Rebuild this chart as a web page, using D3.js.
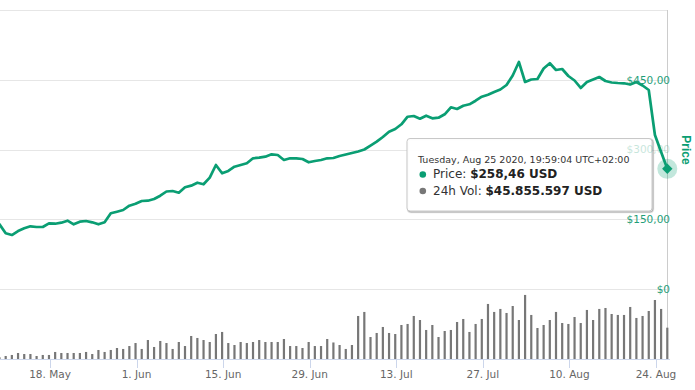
<!DOCTYPE html>
<html><head><meta charset="utf-8">
<script src="https://cdn.jsdelivr.net/npm/d3@7"></script>
<style>
body{margin:0;background:#fff}
svg{display:block;font-family:"DejaVu Sans",Verdana,sans-serif}
</style>
</head><body>
<svg id="c" width="695" height="390"></svg>
<script>
// ---- data ----
const startDate = "2020-05-09T19:59:04Z"; // first daily point, one point per day
const prices = [
139.1,119.8,116.1,124.7,130.5,134.8,133.3,133.3,141.3,140.4,
142.6,146.9,139.1,144.7,146.2,143.4,139.1,143.4,162.8,166.2,
169.9,179.1,183.4,189.2,189.9,193.5,200.6,209.7,210.8,207.1,
218.7,222.2,228.6,225.2,239.4,266.7,248.8,253.8,263.0,266.7,
270.3,281.1,282.4,284.5,289.7,288.2,277.4,281.1,281.1,279.6,
272.5,275.3,277.4,281.1,281.7,286.0,289.2,292.5,295.7,300.0,
308.2,316.8,326.9,338.3,344.1,354.2,370.5,372.0,366.2,372.7,
367.1,368.4,375.7,390.8,387.1,394.2,397.2,404.9,413.5,417.8,
423.7,429.0,438.7,459.1,488.2,445.2,450.5,451.6,474.2,485.4,
471.0,473.1,458.1,448.4,432.3,445.2,450.5,455.9,447.3,444.1,
443.0,442.4,439.8,445.2,437.6,428.0,331.2,294.6,258.46
];
// 24h volume, millions USD
const volumes = [
2.5,4.4,5.9,8.8,7.3,7.3,4.4,5.9,5.9,10.3,
8.8,8.8,8.8,8.8,10.3,7.3,13.2,10.3,13.2,16.1,
14.7,19.0,23.4,14.7,27.8,17.6,26.4,23.4,14.7,24.9,
19.0,33.7,30.8,27.8,24.9,36.6,39.6,23.4,20.5,24.9,
23.4,24.9,27.8,24.9,24.9,24.9,29.3,19.0,19.0,16.1,
24.9,19.0,19.0,29.3,24.2,20.5,14.7,20.5,63.0,68.9,
32.2,38.1,46.9,38.1,36.6,49.8,51.3,63.0,57.1,42.5,
49.8,32.2,41.0,42.5,54.2,58.6,39.6,51.3,58.6,80.6,
68.9,73.3,67.4,77.6,57.1,93.8,64.5,45.4,49.8,57.1,
68.9,52.7,51.3,61.5,52.7,71.8,57.1,73.3,74.7,65.9,
64.5,64.5,76.2,60.1,63.0,70.3,86.4,73.3,45.86
];
const xTickDates = ["2020-05-18","2020-06-01","2020-06-15","2020-06-29","2020-07-13","2020-07-27","2020-08-10","2020-08-24"];
const priceTicks = [0,150,300,450,600];
const priceTickLabels = ["$0","$150,00","$300,00","$450,00",""];
const tooltipDate = "Tuesday, Aug 25 2020, 19:59:04 UTC+02:00";
const tooltipPriceLabel = "Price: ", tooltipPriceValue = "$258,46 USD";
const tooltipVolLabel = "24h Vol: ", tooltipVolValue = "$45.855.597 USD";
const axisTitle = "Price";

// ---- setup ----
const green = "#0a9e73", gray = "#777777";
const t0 = new Date(startDate);
const dates = prices.map((_, i) => d3.utcDay.offset(t0, i));
const svg = d3.select("#c");

const plotLeft = 0, plotRight = 668, priceTop = 10, priceBottom = 289, volBottom = 359;
const x = d3.scaleUtc().domain([dates[0], dates[dates.length-1]]).range([-0.5, 667.3]);
const yP = d3.scaleLinear().domain([0, 600]).range([priceBottom, priceTop]);
const yV = d3.scaleLinear().domain([0, 102.5]).range([volBottom, priceBottom]);

svg.append("defs").append("clipPath").attr("id","clip")
  .append("rect").attr("x",plotLeft).attr("y",0).attr("width",plotRight-plotLeft+2).attr("height",volBottom);

// grid
svg.append("g").selectAll("line").data(priceTicks).join("line")
  .attr("x1",plotLeft).attr("x2",plotRight)
  .attr("y1",d=>Math.round(yP(d))+0.5).attr("y2",d=>Math.round(yP(d))+0.5)
  .attr("stroke","#e6e6e6").attr("stroke-width",1);

// crosshair
const li = prices.length-1;
svg.append("line").attr("x1",Math.round(x(dates[li]))+0.5).attr("x2",Math.round(x(dates[li]))+0.5)
  .attr("y1",priceTop).attr("y2",volBottom).attr("stroke","#cccccc");

// volume bars
svg.append("g").attr("clip-path","url(#clip)").selectAll("rect").data(volumes).join("rect")
  .attr("x",(d,i)=>x(dates[i])-1.1).attr("width",2.2)
  .attr("y",d=>yV(d)).attr("height",d=>volBottom-yV(d))
  .attr("fill",gray);

// x axis
const xAxisG = svg.append("g");
xAxisG.append("line").attr("x1",plotLeft).attr("x2",670).attr("y1",volBottom+0.5).attr("y2",volBottom+0.5).attr("stroke","#ccd6eb");
const tickDates = xTickDates.map(s=>new Date(s+"T00:00:00Z"));
const fmt = d3.utcFormat("%-d. %b");
xAxisG.selectAll("line.tick").data(tickDates).join("line").attr("class","tick")
  .attr("x1",d=>Math.round(x(d))+0.5).attr("x2",d=>Math.round(x(d))+0.5)
  .attr("y1",volBottom).attr("y2",volBottom+9).attr("stroke","#ccd6eb");
xAxisG.selectAll("text").data(tickDates).join("text")
  .attr("x",d=>x(d)).attr("y",377.5).attr("text-anchor","middle")
  .attr("font-size","10.5px").attr("fill","#666666").text(d=>fmt(d));

// price line
const line = d3.line().x((d,i)=>x(dates[i])).y(d=>yP(d));
svg.append("path").datum(prices).attr("clip-path","url(#clip)")
  .attr("d",line).attr("fill","none").attr("stroke",green)
  .attr("stroke-width",2.7).attr("stroke-linejoin","round").attr("stroke-linecap","round");

// y labels (except the one behind the tooltip)
svg.append("g").selectAll("text").data(priceTicks.filter(d=>d!==300)).join("text")
  .attr("x",670).attr("y",d=>yP(d)+3.8).attr("text-anchor","end")
  .attr("font-size","10.5px").attr("fill","#1f9e78")
  .text(d=>priceTickLabels[priceTicks.indexOf(d)]);

// axis title
svg.append("text").attr("transform",`translate(681.5,${(yP(600)+yP(0))/2+0.5}) rotate(90)`)
  .attr("text-anchor","middle").attr("font-family","'Liberation Sans',Arial,sans-serif")
  .attr("font-weight","bold").attr("font-size","12px").attr("fill",green).text(axisTitle);

// hover marker
const hx = x(dates[li]), hy = yP(prices[li]);
svg.append("circle").attr("cx",hx).attr("cy",hy).attr("r",10).attr("fill",green).attr("opacity",0.25);
svg.append("path").attr("d",`M${hx},${hy-5.2}L${hx+5.2},${hy}L${hx},${hy+5.2}L${hx-5.2},${hy}Z`)
  .attr("fill",green);

// tooltip
const tt = svg.append("g");
const bx=407, by=138.5, bw=245, bh=72.5;
[[3,0.05],[2,0.1],[1,0.15]].forEach(([w,o])=>{
  tt.append("rect").attr("x",bx+1).attr("y",by+1).attr("width",bw).attr("height",bh).attr("rx",3)
    .attr("fill","none").attr("stroke","#000").attr("stroke-opacity",o).attr("stroke-width",w);
});
tt.append("rect").attr("x",bx).attr("y",by).attr("width",bw).attr("height",bh).attr("rx",3)
  .attr("fill","rgba(255,255,255,0.96)").attr("stroke","#c8c8c8");
tt.append("text").attr("x",418).attr("y",163).attr("font-size","9.5px").attr("fill","#333").text(tooltipDate);
tt.append("circle").attr("cx",422.8).attr("cy",174.5).attr("r",3.3).attr("fill",green);
const t2 = tt.append("text").attr("x",433).attr("y",178.3).attr("font-size","12px").attr("fill","#333");
t2.append("tspan").text(tooltipPriceLabel);
t2.append("tspan").attr("font-weight","bold").attr("fill","#222").text(tooltipPriceValue);
tt.append("circle").attr("cx",422.8).attr("cy",191).attr("r",3.3).attr("fill",gray);
const t3 = tt.append("text").attr("x",433).attr("y",195).attr("font-size","12px").attr("fill","#333");
t3.append("tspan").text(tooltipVolLabel);
t3.append("tspan").attr("font-weight","bold").attr("fill","#222").text(tooltipVolValue);

// faded label showing through the tooltip
svg.append("text").attr("x",670).attr("y",yP(300)+3.8).attr("text-anchor","end")
  .attr("font-size","10.5px").attr("fill","#1f9e78").attr("opacity",0.25)
  .text(priceTickLabels[priceTicks.indexOf(300)]);
</script>
</body></html>
